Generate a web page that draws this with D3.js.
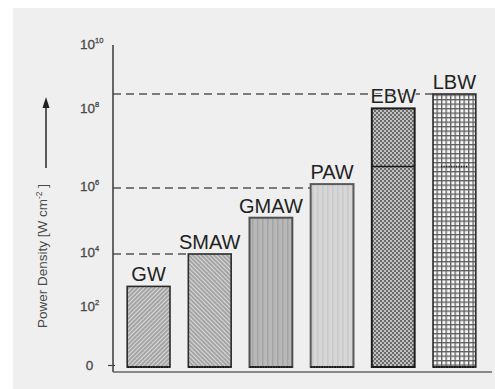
<!DOCTYPE html>
<html>
<head>
<meta charset="utf-8">
<script src="https://cdn.jsdelivr.net/npm/d3@7/dist/d3.min.js"></script>
<style>
  html, body { margin: 0; padding: 0; background: #ffffff; }
  svg { display: block; }
  text { font-family: "Liberation Sans", Arial, sans-serif; }
</style>
</head>
<body>
<svg id="chart" width="495" height="389"></svg>
<script>
// ---------- data ----------
const categories   = ["GW", "SMAW", "GMAW", "PAW", "EBW", "LBW"];
const powerExp     = [2.8, 4.0, 5.1, 6.1, 8.05, 8.5];     // log10 of power density (W/cm^2)
const innerLineExp = [null, null, null, null, 6.55, 6.55]; // lower limit marks inside EBW / LBW
const tickExp      = [0, 2, 4, 6, 8, 10];
const tickBase     = ["0", "10", "10", "10", "10", "10"];
const tickSup      = ["", "2", "4", "6", "8", "10"];
const refLevelExp  = [8.5, 6, 4];
const refLevelTo   = ["LBW", "PAW", "SMAW"];
const yTitle       = "Power Density  [W cm";
const yTitleSup    = "-2";

// ---------- layout / style ----------
const W = 495, H = 389;
const tickPx = [367, 308, 254, 188, 110, 46];   // hand-drawn (non-uniform) decade spacing
const axisX = 113, baseY = 372;
const fills = ["url(#pGW)", "url(#pSMAW)", "url(#pGMAW)", "url(#pPAW)", "url(#pEBW)", "url(#pLBW)"];
const strokes = ["#2b2b2b", "#2b2b2b", "#505050", "#5a5a5a", "#1e1e1e", "#2e2e2e"];
const strokeW = [1.6, 1.6, 2, 2, 2, 1.6];

const svg = d3.select("#chart");
svg.append("rect").attr("x", 13).attr("y", 8).attr("width", W - 13).attr("height", H - 8).attr("fill", "#efefef");

// patterns
const defs = svg.append("defs");
function hatch(id, angle) {
  const p = defs.append("pattern").attr("id", id).attr("patternUnits", "userSpaceOnUse")
    .attr("width", 3).attr("height", 3).attr("patternTransform", `rotate(${angle})`);
  p.append("rect").attr("width", 3).attr("height", 3).attr("fill", "#d8d8d8");
  p.append("line").attr("x1", 1).attr("y1", 0).attr("x2", 1).attr("y2", 3)
    .attr("stroke", "#7c7c7c").attr("stroke-width", 1.1);
}
hatch("pGW", 45);
hatch("pSMAW", -45);
function stripes(id, bg, fg) {
  const p = defs.append("pattern").attr("id", id).attr("patternUnits", "userSpaceOnUse")
    .attr("width", 5).attr("height", 5);
  p.append("rect").attr("width", 5).attr("height", 5).attr("fill", bg);
  p.append("rect").attr("x", 2).attr("width", 1.5).attr("height", 5).attr("fill", fg);
}
stripes("pGMAW", "#b8b8b8", "#a4a4a4");
stripes("pPAW", "#d7d7d7", "#c9c9c9");
{
  const p = defs.append("pattern").attr("id", "pEBW").attr("patternUnits", "userSpaceOnUse")
    .attr("width", 4).attr("height", 4);
  p.append("rect").attr("width", 4).attr("height", 4).attr("fill", "#c0c0c0");
  p.append("rect").attr("width", 2).attr("height", 2).attr("fill", "#6c6c6c");
  p.append("rect").attr("x", 2).attr("y", 2).attr("width", 2).attr("height", 2).attr("fill", "#6c6c6c");
}
{
  const p = defs.append("pattern").attr("id", "pLBW").attr("patternUnits", "userSpaceOnUse")
    .attr("width", 4.5).attr("height", 4.5);
  p.append("rect").attr("width", 4.5).attr("height", 4.5).attr("fill", "#f6f6f6");
  p.append("rect").attr("width", 1.3).attr("height", 4.5).attr("fill", "#5e5e5e");
  p.append("rect").attr("width", 4.5).attr("height", 1.3).attr("fill", "#5e5e5e");
}

// scales
const x = d3.scaleBand().domain(categories).range([118, 485]).paddingInner(0.3).paddingOuter(0.15);
const y = d3.scaleLinear().domain(tickExp).range(tickPx);

// dashed reference lines
refLevelExp.forEach((e, i) => {
  svg.append("line")
    .attr("x1", axisX).attr("x2", x(refLevelTo[i]))
    .attr("y1", y(e)).attr("y2", y(e))
    .attr("stroke", "#555").attr("stroke-width", 1.3)
    .attr("stroke-dasharray", "8,5");
});

// bars
const data = categories.map((c, i) => ({ c, v: powerExp[i], inner: innerLineExp[i], i }));
svg.selectAll("rect.bar").data(data).join("rect").attr("class", "bar")
  .attr("x", d => x(d.c)).attr("width", x.bandwidth())
  .attr("y", d => y(d.v)).attr("height", d => y(0) - y(d.v))
  .attr("fill", d => fills[d.i]).attr("stroke", d => strokes[d.i]).attr("stroke-width", d => strokeW[d.i]);

// bar bottoms
svg.selectAll("line.bottom").data(data).join("line").attr("class", "bottom")
  .attr("x1", d => x(d.c)).attr("x2", d => x(d.c) + x.bandwidth())
  .attr("y1", y(0)).attr("y2", y(0))
  .attr("stroke", "#1a1a1a").attr("stroke-width", 2.2).attr("stroke-dasharray", "2,0.6");

// inner limit lines
data.filter(d => d.inner !== null).forEach(d => {
  const solid = d.c === "EBW";
  svg.append("line")
    .attr("x1", x(d.c) + (solid ? 0 : 8)).attr("x2", x(d.c) + x.bandwidth() - (solid ? 0 : 8))
    .attr("y1", y(d.inner)).attr("y2", y(d.inner))
    .attr("stroke", "#1a1a1a").attr("stroke-width", solid ? 1.6 : 1.5)
    .attr("stroke-dasharray", solid ? null : "1.2,1.3");
});

// bar labels
svg.selectAll("text.lab").data(data).join("text").attr("class", "lab")
  .attr("x", d => x(d.c) + x.bandwidth() / 2).attr("y", d => y(d.v) - 5)
  .attr("text-anchor", "middle").attr("font-size", 20).attr("fill", "#222")
  .attr("stroke", "#efefef").attr("stroke-width", 2).attr("paint-order", "stroke")
  .text(d => d.c);

// axes
svg.append("line").attr("x1", axisX).attr("x2", axisX).attr("y1", y(10) - 1).attr("y2", baseY)
  .attr("stroke", "#444").attr("stroke-width", 1.6);
svg.append("line").attr("x1", axisX).attr("x2", 492).attr("y1", baseY).attr("y2", baseY)
  .attr("stroke", "#666").attr("stroke-width", 1.4);
svg.append("line").attr("x1", 108).attr("x2", 115).attr("y1", y(0) - 1.5).attr("y2", y(0) - 1.5)
  .attr("stroke", "#444").attr("stroke-width", 1.2);

// tick labels
tickExp.forEach((e, i) => {
  const t = svg.append("text")
    .attr("x", tickSup[i] ? 80 : 89.5).attr("y", y(e) + 3)
    .attr("text-anchor", tickSup[i] ? "start" : "middle")
    .attr("font-size", 13.5).attr("fill", "#4a4a4a")
    .attr("stroke", "#4a4a4a").attr("stroke-width", 0.3);
  t.append("tspan").text(tickBase[i]);
  if (tickSup[i]) t.append("tspan").attr("dy", -6).attr("font-size", 7.5).text(tickSup[i]);
});

// y title with arrow
const title = svg.append("text")
  .attr("transform", "translate(47,256) rotate(-90)")
  .attr("text-anchor", "middle").attr("font-size", 13.5).attr("fill", "#4a4a4a");
title.append("tspan").text(yTitle);
title.append("tspan").attr("dy", -5).attr("font-size", 8.5).text(yTitleSup);
title.append("tspan").attr("dy", 5).text(" ]");

svg.append("line").attr("x1", 46).attr("x2", 46).attr("y1", 168).attr("y2", 106)
  .attr("stroke", "#333").attr("stroke-width", 1.6);
svg.append("path").attr("d", d3.line()([[42.5, 108], [49.5, 108], [46, 97]])).attr("fill", "#222");
</script>
</body>
</html>
